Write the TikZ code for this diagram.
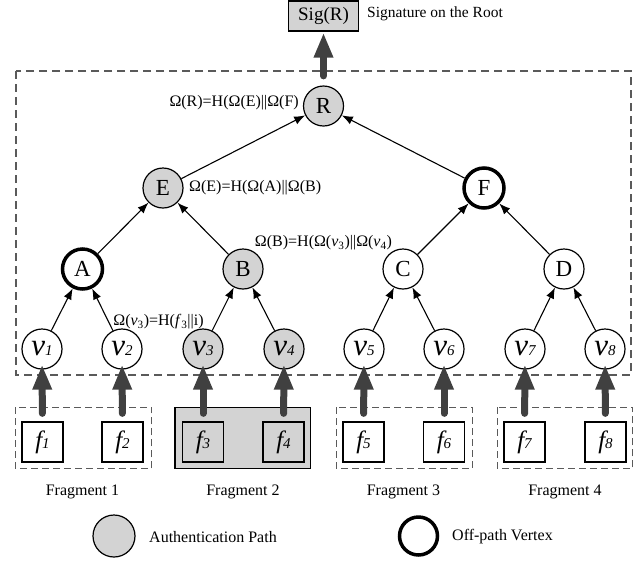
\documentclass[tikz,border=0pt]{standalone}
\usepackage{fontspec}
\setmainfont{Liberation Serif}
\usetikzlibrary{arrows.meta,backgrounds}
\definecolor{pathgray}{HTML}{D3D3D3}
\definecolor{arrowgray}{HTML}{404040}
\definecolor{dashgray}{HTML}{5A5A5A}
\newcommand\vlab[1]{{\fontsize{31}{31}\selectfont\itshape v}{\fontsize{15}{15}\selectfont\itshape #1}}
\newcommand\flab[1]{{\fontsize{25}{25}\selectfont\itshape f}{\fontsize{15}{15}\selectfont\itshape #1}}
\tikzset{
 vtx/.style={circle,draw,line width=1.2pt,minimum size=40pt,inner sep=0pt,font=\fontsize{23}{23}\selectfont},
 onpath/.style={fill=pathgray},
 offpath/.style={line width=3.5pt},
 fbox/.style={draw,line width=1.3pt,minimum width=41pt,minimum height=40pt,inner sep=0pt},
 edge/.style={-{Latex[length=11pt,width=8.5pt]},line width=1.1pt},
 bigarrow/.style={arrowgray,line width=7pt,line cap=round,-{Triangle[length=25pt,width=18pt]}},
 lbl/.style={font=\fontsize{16}{16}\selectfont,inner sep=0pt},
 fragdash/.style={dashgray,dash pattern=on 7pt off 4pt,line width=1.1pt},
}
\begin{document}
\begin{tikzpicture}[x=1pt,y=-1pt]
\useasboundingbox (0,0) rectangle (644,563);
% signature
\node[draw,fill=pathgray,line width=1.3pt,minimum width=70pt,minimum height=30pt,inner sep=0pt,font=\fontsize{19}{19}\selectfont] (sig) at (323.5,16) {Sig(R)};
\node[lbl,anchor=west,font=\fontsize{15.5}{15.5}\selectfont] (sigtxt) at (367,14) {Signature on the Root};
% tree
\node[vtx,onpath] (R) at (323.5,106) {R};
\node[vtx,onpath] (E) at (163,188) {E};
\node[vtx,offpath] (F) at (484,188) {F};
\node[vtx,offpath] (A) at (82.5,269) {A};
\node[vtx,onpath] (B) at (243,269) {B};
\node[vtx] (C) at (403,269) {C};
\node[vtx] (D) at (564,269) {D};
\node[vtx] (v1) at (42,349) {\vlab{1}};
\node[vtx] (v2) at (122,349) {\vlab{2}};
\node[vtx,onpath] (v3) at (203,349) {\vlab{3}};
\node[vtx,onpath] (v4) at (284,349) {\vlab{4}};
\node[vtx] (v5) at (364,349) {\vlab{5}};
\node[vtx] (v6) at (444,349) {\vlab{6}};
\node[vtx] (v7) at (525,349) {\vlab{7}};
\node[vtx] (v8) at (605,349) {\vlab{8}};
% fragments
\node[fbox] (f1) at (42.5,442) {\flab{1}};
\node[fbox] (f2) at (122.5,442) {\flab{2}};
\node[fbox] (f3) at (203,442) {\flab{3}};
\node[fbox] (f4) at (283.5,442) {\flab{4}};
\node[fbox] (f5) at (363.5,442) {\flab{5}};
\node[fbox] (f6) at (444,442) {\flab{6}};
\node[fbox] (f7) at (524.5,442) {\flab{7}};
\node[fbox] (f8) at (605.5,442) {\flab{8}};
\begin{pgfonlayer}{background}
\draw[fragdash,line width=1.2pt,dash pattern=on 8pt off 5pt] (16,71) rectangle (631,375);
\draw[fragdash] ([shift={(-6pt,14pt)}]f1.north west) rectangle ([shift={(8pt,-6pt)}]f2.south east);
\draw[fill=pathgray,line width=1.6pt] ([shift={(-7pt,14pt)}]f3.north west) rectangle ([shift={(6pt,-6pt)}]f4.south east);
\draw[fragdash] ([shift={(-6pt,14pt)}]f5.north west) rectangle ([shift={(7pt,-6pt)}]f6.south east);
\draw[fragdash] ([shift={(-6pt,14pt)}]f7.north west) rectangle ([shift={(6pt,-6pt)}]f8.south east);
\end{pgfonlayer}
% edges
\draw[edge] (E) -- (R);
\draw[edge] (F) -- (R);
\draw[edge] (A) -- (E);
\draw[edge] (B) -- (E);
\draw[edge] (C) -- (F);
\draw[edge] (D) -- (F);
\draw[edge] (v1) -- (A);
\draw[edge] (v2) -- (A);
\draw[edge] (v3) -- (B);
\draw[edge] (v4) -- (B);
\draw[edge] (v5) -- (C);
\draw[edge] (v6) -- (C);
\draw[edge] (v7) -- (D);
\draw[edge] (v8) -- (D);
% thick arrows
\draw[bigarrow,shorten <=9.5pt,shorten >=1pt] (R) -- (sig);
\foreach \i in {1,...,8}{
  \draw[bigarrow,shorten <=8pt,shorten >=-5pt] (f\i) -- (v\i);
}
% labels
\node[lbl,anchor=east] (lR) at (299,103) {Ω(R)=H(Ω(E)||Ω(F)};
\node[lbl,anchor=west] (lE) at (189,188) {Ω(E)=H(Ω(A)||Ω(B)};
\node[lbl] (lB) at (323.5,243) {Ω(B)=H(Ω(\textit{v}\textsubscript{3})||Ω(\textit{v}\textsubscript{4})};
\node[lbl] (lv) at (158.5,322) {Ω(\textit{v}\textsubscript{3})=H(\textit{f}\textsubscript{3}||i)};
\node[lbl] (fr1) at (82.5,492) {Fragment 1};
\node[lbl] (fr2) at (243,492) {Fragment 2};
\node[lbl] (fr3) at (403.5,492) {Fragment 3};
\node[lbl] (fr4) at (565,492) {Fragment 4};
% legend
\node[vtx,onpath,minimum size=42pt] (lg1) at (114,536) {};
\node[lbl,anchor=west] (lg1t) at (149,537) {Authentication Path};
\node[vtx,offpath,minimum size=38pt] (lg2) at (418.5,536) {};
\node[lbl,anchor=west] (lg2t) at (452,537) {Off-path Vertex};
\end{tikzpicture}
\end{document}
